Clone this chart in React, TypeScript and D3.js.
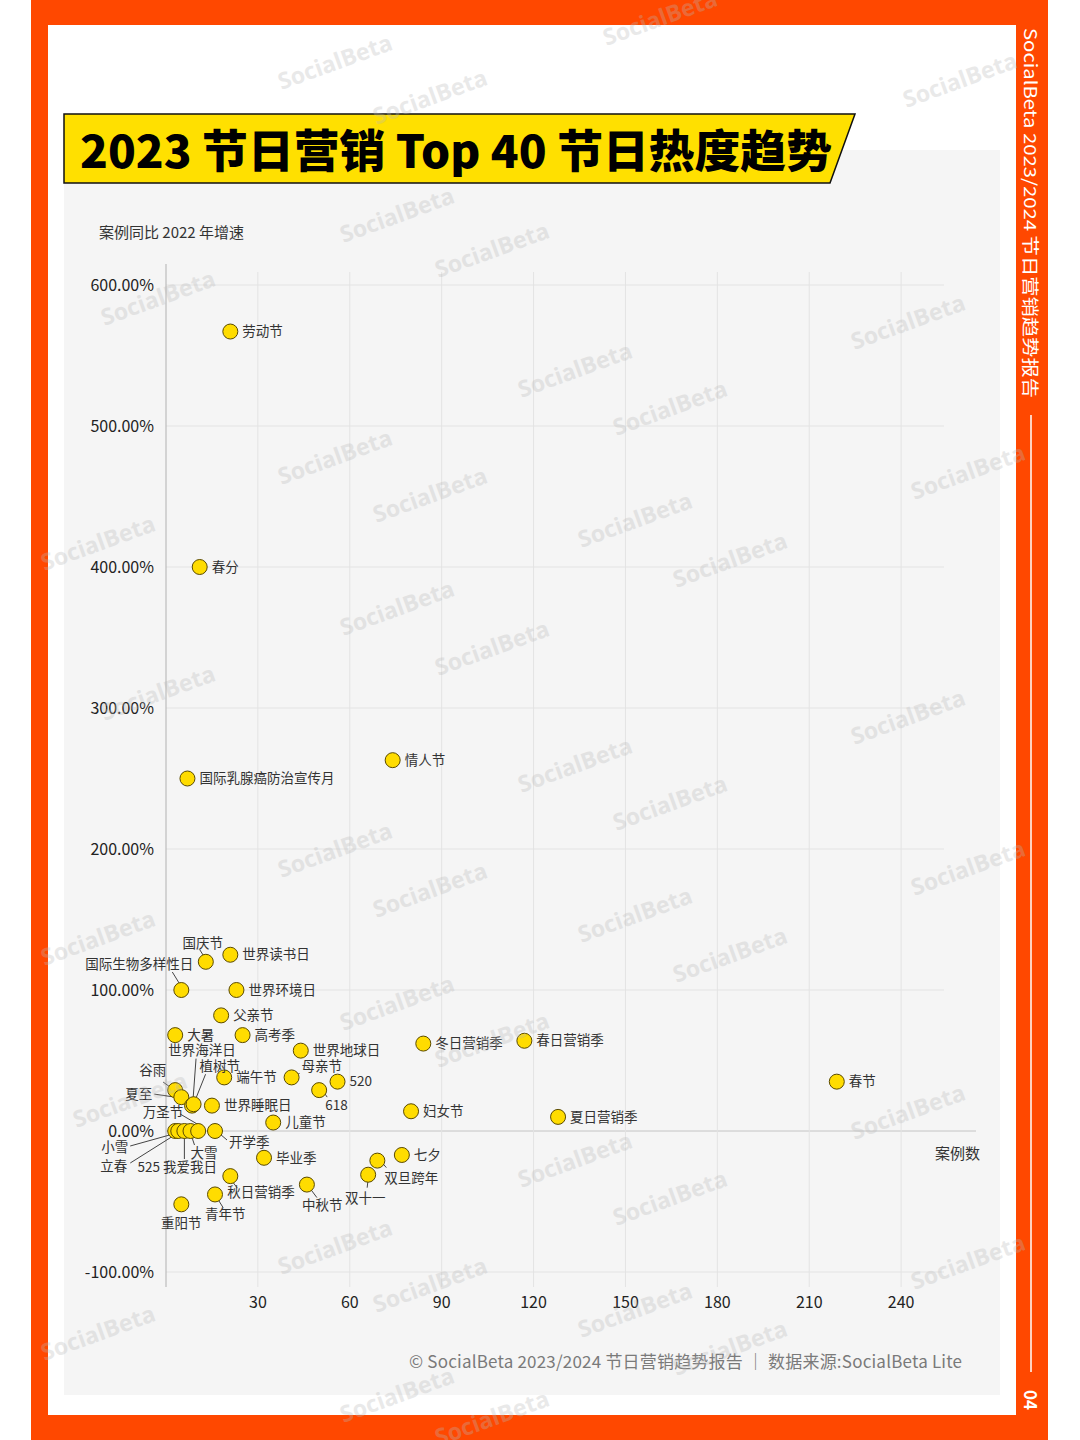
import * as d3 from "d3";

const festivals = [
  "劳动节", "春分", "情人节", "国际乳腺癌防治宣传月", "国庆节", "世界读书日", "国际生物多样性日",
  "世界环境日", "父亲节", "大暑", "高考季", "世界地球日", "冬日营销季", "春日营销季", "春节",
  "端午节", "母亲节", "520", "618", "谷雨", "夏至", "世界海洋日", "植树节", "世界睡眠日",
  "妇女节", "夏日营销季", "儿童节", "小雪", "立春", "525 我爱我日", "大雪", "万圣节", "开学季",
  "毕业季", "七夕", "双旦跨年", "双十一", "中秋节", "秋日营销季", "青年节", "重阳节",
];
const caseCounts = [
  21, 11, 74, 7, 13, 21, 5,
  23, 18, 3, 25, 44, 84, 117, 219,
  19, 41, 56, 50, 3, 5, 8.5, 9, 15,
  80, 128, 35, 3, 4, 6, 8, 10.5, 16,
  32, 77, 69, 66, 46, 21, 16, 5,
];
const growthPct = [
  567, 400, 263, 250, 120, 125, 100,
  100, 82, 68, 68, 57, 62, 64, 35,
  38, 38, 35, 29, 29, 24, 18, 19, 18,
  14, 10, 6, 0, 0, 0, 0, 0, 0,
  -19, -17, -21, -31, -38, -32, -45, -52,
];
const xTicks = [30, 60, 90, 120, 150, 180, 210, 240];
const yTicks = [-100, 0, 100, 200, 300, 400, 500, 600];

// label placement (pixel offsets from the dot), default is right of the dot
type Lab = { dx: number; dy: number; anchor?: string; leader?: number[] };
const labelLayout: Record<string, Lab> = {
  "国庆节": { dx: -3, dy: -19, anchor: "middle", leader: [-6, -12, -1, -4] },
  "国际生物多样性日": { dx: 12, dy: -26, anchor: "end", leader: [-9, -18, -1, -5] },
  "母亲节": { dx: 10, dy: -11, leader: [0, 0, 8, -4] },
  "618": { dx: 6, dy: 15, leader: [2, -2, 8, 7] },
  "谷雨": { dx: -9, dy: -20, anchor: "end", leader: [-12, -8, -5, -3] },
  "夏至": { dx: -29, dy: -3, anchor: "end", leader: [-27, -3, -6, 0] },
  "世界海洋日": { dx: 10, dy: -55, anchor: "middle", leader: [4, -47, 1, -6] },
  "植树节": { dx: 6, dy: -38, leader: [12, -30, 2, -5] },
  "万圣节": { dx: -15, dy: -19, anchor: "end", leader: [-18, -17, -1, -7] },
  "小雪": { dx: -47, dy: 16, anchor: "end", leader: [-45, 15, -2, 3] },
  "立春": { dx: -51, dy: 35, anchor: "end", leader: [-48, 32, -2, 3] },
  "525 我爱我日": { dx: -7, dy: 36, anchor: "middle", leader: [0, 28, 0, 6] },
  "大雪": { dx: 0, dy: 22, leader: [1, 5, 4, 14] },
  "开学季": { dx: 14, dy: 11, leader: [5, 3, 12, 9] },
  "双旦跨年": { dx: 7, dy: 18, leader: [3, 0, 9, 7] },
  "双十一": { dx: -3, dy: 24, anchor: "middle", leader: [0, 4, -1, 13] },
  "中秋节": { dx: -5, dy: 21, leader: [4, 5, 10, 13] },
  "秋日营销季": { dx: -3, dy: 16, leader: [1, 4, 7, 12] },
  "青年节": { dx: -10, dy: 20, leader: [3, 5, 8, 13] },
  "重阳节": { dx: 0, dy: 19, anchor: "middle" },
};

const watermarks = [
  [335, 62], [430, 97], [960, 80], [660, 18], [397, 215], [492, 250], [158, 298], [908, 322],
  [575, 370], [670, 408], [335, 457], [430, 495], [968, 472], [98, 543], [635, 520], [730, 560],
  [397, 608], [492, 648], [158, 693], [908, 717], [575, 765], [670, 803], [335, 850], [430, 890],
  [968, 868], [98, 938], [635, 915], [730, 955], [397, 1003], [492, 1040], [908, 1112], [575, 1160],
  [670, 1198], [335, 1247], [430, 1285], [968, 1262], [98, 1333], [635, 1310], [730, 1348],
  [397, 1395], [492, 1418], [130, 1100],
];

const FONT = "'Noto Sans CJK SC', 'Noto Sans', sans-serif";

export default function App() {
  const x = d3.scaleLinear().domain([0, 254]).range([166, 944]);
  const y = d3.scaleLinear().domain([-100, 600]).range([1272, 285]);
  const fmt = (v: number) => d3.format(".2f")(v).replace("−", "-") + "%";
  const pts = festivals.map((name, i) => ({ name, cx: x(caseCounts[i]), cy: y(growthPct[i]) }));

  return (
    <div style={{ position: "absolute", left: 0, top: 0 }}>
      <svg width={1080} height={1440} style={{ display: "block", fontFamily: FONT }}>
        <rect width={1080} height={1440} fill="#fff" />
        <rect x={31} y={0} width={1017} height={1440} fill="#ff4800" />
        <rect x={48} y={25} width={968} height={1390} fill="#fff" />
        <rect x={64} y={150} width={936} height={1245} fill="#f5f5f5" />

        {/* title banner */}
        <path d="M64,114 L855,114 L830,183 L64,183 Z" fill="#ffe000" stroke="#111" strokeWidth={1.5} />
        <text x={80} y={168} fontSize={45} fontWeight={900} fill="#000" textLength={752} lengthAdjust="spacingAndGlyphs">
          2023 节日营销 Top 40 节日热度趋势
        </text>

        {/* side strip */}
        <text transform="translate(1024,28) rotate(90)" fontSize={17} fill="#fff" textLength={370} lengthAdjust="spacingAndGlyphs">
          SocialBeta 2023/2024 节日营销趋势报告
        </text>
        <line x1={1031} x2={1031} y1={415} y2={1372} stroke="#fff" strokeWidth={1.5} />
        <text transform="translate(1024,1390) rotate(90)" fontSize={17} fontWeight={700} fill="#fff">04</text>

        {/* grid */}
        {yTicks.map((t) => (
          <line key={"gy" + t} x1={166} x2={t === 0 ? 976 : 944} y1={y(t)} y2={y(t)}
            stroke={t === 0 ? "#c4c4c4" : "#e3e3e3"} strokeWidth={1} />
        ))}
        {xTicks.map((t) => (
          <line key={"gx" + t} x1={x(t)} x2={x(t)} y1={272} y2={1287} stroke="#e3e3e3" strokeWidth={1} />
        ))}
        <line x1={166} x2={166} y1={264} y2={1287} stroke="#bdbdbd" strokeWidth={1.2} />

        {/* axes labels */}
        {yTicks.map((t) => (
          <text key={"ty" + t} x={154} y={y(t)} dy="0.35em" textAnchor="end" fontSize={16} fill="#222">{fmt(t)}</text>
        ))}
        {xTicks.map((t) => (
          <text key={"tx" + t} x={x(t)} y={1302} dy="0.35em" textAnchor="middle" fontSize={16} fill="#222">{t}</text>
        ))}
        <text x={99} y={233} dy="0.35em" fontSize={15} fill="#333">案例同比 2022 年增速</text>
        <text x={980} y={1154} dy="0.35em" textAnchor="end" fontSize={15} fill="#333">案例数</text>

        {/* leaders */}
        {pts.map((p) => {
          const l = labelLayout[p.name];
          if (!l || !l.leader) return null;
          return (
            <line key={"ld" + p.name} x1={p.cx + l.leader[0]} y1={p.cy + l.leader[1]}
              x2={p.cx + l.leader[2]} y2={p.cy + l.leader[3]} stroke="#444" strokeWidth={1} />
          );
        })}

        {/* dots */}
        {pts.map((p) => (
          <circle key={"c" + p.name} cx={p.cx} cy={p.cy} r={7.5} fill="#ffdc00" stroke="#5a4a00" strokeWidth={1} />
        ))}

        {/* labels */}
        {pts.map((p) => {
          const l = labelLayout[p.name] || { dx: 12, dy: 0 };
          return (
            <text key={"t" + p.name} x={p.cx + l.dx} y={p.cy + l.dy} dy="0.35em"
              textAnchor={l.anchor || "start"} fontSize={13.5} fill="#333">{p.name}</text>
          );
        })}

        {/* footer */}
        <text x={962} y={1362} dy="0.35em" textAnchor="end" fontSize={17} fill="#7a7a7a" textLength={553}>
          © SocialBeta 2023/2024 节日营销趋势报告 ｜ 数据来源:SocialBeta Lite
        </text>

        {/* watermarks */}
        {watermarks.map(([wx, wy], i) => (
          <text key={"w" + i} transform={`translate(${wx},${wy}) rotate(-20)`} textAnchor="middle"
            dy="0.35em" fontSize={23} fontWeight={700} fill="#b8b8b8" opacity={0.3}
            fontFamily="'Open Sans', sans-serif">SocialBeta</text>
        ))}
      </svg>
    </div>
  );
}
